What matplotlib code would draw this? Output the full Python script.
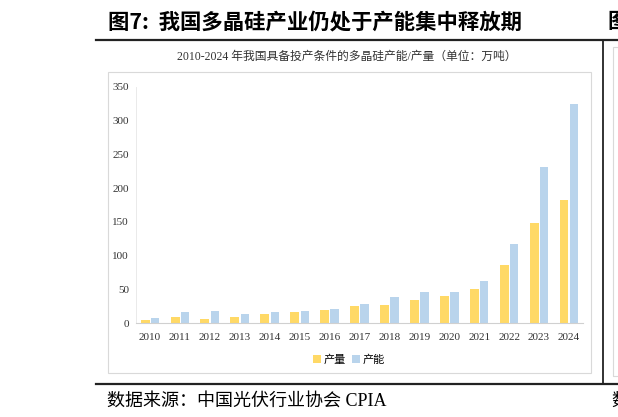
import numpy as np
import matplotlib
matplotlib.use("Agg")
import matplotlib.pyplot as plt
from matplotlib.patches import Rectangle
from matplotlib.lines import Line2D

plt.rcParams['font.family'] = ['Liberation Serif', 'Noto Sans CJK SC', 'DejaVu Sans']

years = ['2010', '2011', '2012', '2013', '2014', '2015', '2016', '2017',
         '2018', '2019', '2020', '2021', '2022', '2023', '2024']
output = [5, 9, 7, 9, 14, 16, 19.5, 25, 27, 35, 41, 51, 86, 148, 183]
capacity = [8, 16.5, 18.5, 14, 16.5, 18.5, 20.5, 28, 39, 47, 46, 63, 118, 231, 324]

yellow = '#FFD966'
blue = '#B9D4EC'

W, H = 618, 417
fig = plt.figure(figsize=(W / 100, H / 100), dpi=100)


def fx(px):
    return px / W


def fy(py):
    return 1 - py / H


# header / footer frame
fig.add_artist(Line2D([fx(96), 1], [fy(39.5), fy(39.5)], color='#222222', lw=1.6))
fig.add_artist(Line2D([fx(96), 1], [fy(384), fy(384)], color='#222222', lw=1.6))
fig.add_artist(Line2D([fx(603), fx(603)], [fy(39.5), fy(384)], color='#222222', lw=1.3))

fig.text(fx(108), fy(22), '图7:  我国多晶硅产业仍处于产能集中释放期', fontsize=15.4,
         fontweight='bold', va='center', ha='left',
         family=['Noto Sans CJK SC', 'DejaVu Sans'])
fig.text(fx(107), fy(401), '数据来源：中国光伏行业协会 CPIA', fontsize=13,
         va='center', ha='left')

# clipped neighbour panel on the right (cut by the page edge, as in the source)
fig.text(fx(607), fy(22), '图', fontsize=15.4, fontweight='bold', va='center', ha='left',
         family=['Noto Sans CJK SC'])
fig.text(fx(611), fy(401), '数', fontsize=13, va='center', ha='left')
fig.add_artist(Rectangle((fx(613), fy(376)), fx(20), fy(47) - fy(376),
                         fill=False, edgecolor='#d9d9d9', lw=0.8))

# chart box
fig.add_artist(Rectangle((fx(108), fy(373)), fx(591) - fx(108), fy(72) - fy(373),
                         fill=False, edgecolor='#d9d9d9', lw=0.8))
fig.text(fx(347), fy(57), '2010-2024 年我国具备投产条件的多晶硅产能/产量（单位：万吨）',
         fontsize=8.5, ha='center', va='center', color='#333333')

ax = fig.add_axes([fx(136), fy(323.3), fx(583) - fx(136), fy(86.7) - fy(323.3)])
x = np.arange(len(years))
ax.bar(x - 0.165, output, width=0.3, color=yellow, label='产量')
ax.bar(x + 0.17, capacity, width=0.28, color=blue, label='产能')

ax.set_xlim(-0.47, len(years) - 0.53)
ax.set_ylim(0, 350)
ax.set_yticks(np.arange(0, 351, 50))
ax.set_xticks(x)
ax.set_xticklabels(years)
ax.tick_params(axis='both', length=0, labelsize=8, colors='#333333')
ax.tick_params(axis='x', pad=7)
ax.tick_params(axis='y', pad=5)
for s in ['top', 'right']:
    ax.spines[s].set_visible(False)
ax.spines['left'].set_color('#e6e6e6')
ax.spines['left'].set_linewidth(0.6)
ax.spines['bottom'].set_color('#d0d0d0')
ax.spines['bottom'].set_linewidth(0.8)

fig.legend(loc='center', bbox_to_anchor=(fx(349), fy(360)), ncol=2, frameon=False,
           handlelength=0.7, handleheight=0.7, handletextpad=0.3, columnspacing=0.5,
           prop={'family': ['Noto Sans CJK SC'], 'size': 8})

fig.savefig('out.png', dpi=100)
